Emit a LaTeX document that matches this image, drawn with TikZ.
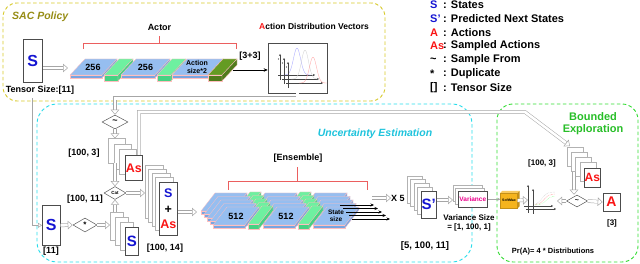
\documentclass[tikz,border=0pt]{standalone}
\usepackage{fontspec}
\setmainfont{Liberation Sans}
\usepackage{xcolor}
\usepackage{tikz}
\usetikzlibrary{arrows.meta,positioning,shapes.geometric}
\definecolor{sacyel}{RGB}{214,200,40}
\definecolor{sacolive}{RGB}{150,140,20}
\definecolor{unccyan}{RGB}{40,220,235}
\definecolor{unctext}{RGB}{30,195,220}
\definecolor{bndgreen}{RGB}{50,220,50}
\definecolor{bndtext}{RGB}{40,190,40}
\definecolor{sblue}{RGB}{20,20,210}
\definecolor{ared}{RGB}{250,20,20}
\definecolor{slabblue}{RGB}{150,190,240}
\definecolor{slabblue2}{RGB}{120,165,225}
\definecolor{slabgreen}{RGB}{110,240,160}
\definecolor{slabgreen2}{RGB}{70,210,130}
\definecolor{darkgreen}{RGB}{100,155,35}
\definecolor{smaxor}{RGB}{245,180,30}
\definecolor{brkred}{RGB}{235,95,95}
\newcommand{\fsz}[1]{\fontsize{#1}{#1}\selectfont}
% slab: x, y (front bottom left), width, thickness, top colour, side colour, depth dx, depth dy
\newcommand{\slab}[8]{%
  \filldraw[slabedge, fill=#5] (#1,{#2-#4}) -- ++(#3,0) -- ++(#7,#8) -- ++({-1*(#3)},0) -- cycle;
  \filldraw[slabedge, fill=#6] (#1,{#2-#4}) rectangle ++(#3,#4);
  \filldraw[slabedge, fill=#6] ({#1+#3},{#2-#4}) -- ++(#7,#8) -- ++(0,#4) -- ++({-1*(#7)},{-1*(#8)}) -- cycle;
}
% frames behind a stack: x, y (front top left), w, h, count, dx, dy
\newcommand{\backframes}[7]{%
  \foreach \k in {#5,...,1}
    \draw[backfr] ({#1+\k*(#6)},{#2+\k*(#7)}) rectangle ++(#3,#4);
}

\begin{document}
\begin{tikzpicture}[x=1pt, y=-1pt,
  region/.style={draw=#1, line width=0.9pt, dash pattern=on 3.5pt off 2.5pt, rounded corners=14pt},
  title/.style={font=\bfseries\itshape\fsz{10.5}, inner sep=0pt},
  lbl/.style={font=\bfseries\fsz{9}, inner sep=0pt},
  leg/.style={font=\bfseries\fsz{11}, inner sep=0pt, anchor=west},
  frame/.style={draw=gray!60!black, fill=white, line width=0.6pt, inner sep=0pt, anchor=north west},
  backfr/.style={draw=gray!60, fill=white, line width=0.5pt},
  slabedge/.style={draw=red!25, line width=0.3pt},
  gate/.style={diamond, draw=gray!70!black, fill=white, line width=0.5pt, inner sep=0pt},
  hollow/.style={draw=gray!70, line width=0.5pt, double=white, double distance=2.6pt,
                 -{Triangle[open, length=5pt, width=8.5pt]}},
  thinarr/.style={draw=gray!70, line width=0.5pt, -{Triangle[open, length=4pt, width=5pt]}},
  brk/.style={draw=brkred, line width=0.9pt},
  axis/.style={draw=gray!55!black, line width=0.4pt, -{Stealth[length=2pt, width=2pt]}},
]
\useasboundingbox (0,0) rectangle (640,264);

% Regions
\draw[region=sacyel] (3,3) rectangle (385,101);
\draw[region=unccyan, rounded corners=20pt] (37,104) rectangle (472,262);
\draw[region=bndgreen, rounded corners=16pt] (497,104) rectangle (638,262);
\node[title, text=sacolive, anchor=west] (sac) at (12,17) {SAC Policy};
\node[title, text=unctext] (unc) at (375,134) {Uncertainty Estimation};
\node[font=\bfseries\fsz{11}, text=bndtext, align=center, inner sep=0pt] (bnd) at (593,123.5)
  {Bounded\\[1.5pt]Exploration};

% Legend
\foreach \sym/\txt [count=\i from 0] in {%
  {\color{sblue}S}/States,
  {\color{sblue}S'}/Predicted Next States,
  {\color{ared}A}/Actions,
  {\color{ared}As}/Sampled Actions,
  {\textasciitilde}/Sample From,
  {*}/Duplicate,
  {[]}/Tensor Size}
{
  \node[leg] (sym\i) at (430,{5+13.7*\i}) {\sym};
  \node[leg] (leg\i) at (443,{5+13.7*\i}) {: \txt};
}

% SAC policy: actor
\node[frame, minimum width=19pt, minimum height=43pt, font=\bfseries\fsz{16}, text=sblue] (s0) at (23,39) {S};
\node[lbl] (tsize) at (40,90) {Tensor Size:[11]};
\coordinate (actin) at (68,68);
\draw[hollow] (s0.east |- actin) -- (actin);

\slab{70}{78}{32}{3}{slabblue}{slabblue2}{15}{-16}
\slab{104}{81}{14}{6}{slabgreen}{slabgreen2}{15}{-16}
\slab{121}{78}{34}{3}{slabblue}{slabblue2}{15}{-16}
\slab{157}{81}{14}{6}{slabgreen}{slabgreen2}{15}{-16}
\slab{172}{78}{36}{3}{slabblue}{slabblue2}{15}{-16}
\slab{208}{81}{14}{6}{darkgreen}{darkgreen!80!black}{15}{-16}
\node[lbl] (l1) at (93,67) {256};
\node[lbl] (l2) at (145.5,67) {256};
\node[lbl, font=\bfseries\fsz{7}, align=center] (l3) at (197,67) {Action\\[1pt]size*2};

\draw[brk] (83,49) -- (83,43) -- (236,43) -- (236,49);
\draw[brk] (159.5,43) -- (159.5,36);
\node[lbl] (actor) at (159.5,27) {Actor};

\node[draw=gray!60!black, fill=white, line width=0.6pt, minimum width=59pt, minimum height=50pt, inner sep=0pt]
  (dist1) at (297.5,68) {};
\node[lbl, font=\bfseries\fsz{8.5}] (dlab) at (314,26) {{\color{ared}A}ction Distribution Vectors};
\foreach \k/\c/\m/\p in {0/blue/297/48, 1/gray/305/50, 2/red/313/57} {
  \draw[axis] ({280+4*\k},{80+4*\k}) -- ({280+4*\k},{54+4*\k});
  \draw[axis] ({278+4*\k},{75+4*\k}) -- ({315+4*\k},{75+4*\k});
  \fill[gray!40!black] ({278.5+4*\k},{59+4*\k}) circle (0.7);
  \draw[\c!35, line width=0.35pt] plot[domain=-14:14, samples=30]
    ({\m+\x},{75+4*\k-(75+4*\k-\p)*exp(-(\x/5)^2)});
}
\coordinate (aout) at (233,70);
\draw[-{Stealth[length=4pt, width=3.5pt]}, line width=0.8pt] (aout) -- (dist1.west |- aout);
\node[lbl] (ss) at (250,56) {[3+3]};

% Uncertainty estimation: inputs
\node[frame, minimum width=18pt, minimum height=40pt, font=\bfseries\fsz{16}, text=sblue] (s1) at (42,205) {S};
\node[lbl] (t11) at (51,251) {[11]};
\coordinate (tdrop) at (32,98);
\draw[thinarr] (tdrop) |- (s1.west);

\node[gate, minimum width=24pt, minimum height=14pt, font=\bfseries\fsz{8}] (dup) at (85,225) {*};
\draw[hollow] (s1.east) -- (dup.west);

\backframes{125}{227}{13}{28}{3}{-5}{-5}
\node[frame, minimum width=13pt, minimum height=28pt, font=\bfseries\fsz{15}, text=sblue] (sstk) at (125,227) {S};
\coordinate (sback) at (110,225);
\draw[hollow] (dup.east) -- (sback);

\node[gate, minimum width=22pt, minimum height=13pt, font=\bfseries\fsz{4.5}] (cat) at (115,193) {Cat};
\coordinate (stop) at (115,212);
\draw[hollow] (stop) -- (cat.south);

\node[gate, minimum width=26pt, minimum height=14pt, font=\bfseries\fsz{9}] (samp1) at (115,122) {\textasciitilde};
\draw[hollow] (dist1.south) -- ++(0,5) -| (samp1.north);

\backframes{125}{155}{17}{25}{3}{-5.5}{-5.5}
\node[frame, minimum width=17pt, minimum height=25pt, font=\bfseries\fsz{12.5}, text=ared] (asstk) at (125,155) {As};
\coordinate (astop) at (115,138.5);
\coordinate (asbot) at (115,163.5);
\draw[hollow] (samp1.south) -- (astop);
\draw[hollow] (asbot) -- (cat.north);

\backframes{159}{182}{18}{53}{4}{-3.5}{-4.25}
\node[frame, minimum width=18pt, minimum height=53pt, font=\bfseries\fsz{12.5}, align=center] (sas) at (159,182)
  {{\color{sblue}S}\\[3pt]+\\[3pt]{\color{ared}As}};
\coordinate (sasback) at (145,195);
\draw[hollow] (cat.east) -- (cat.east -| sasback);

\node[lbl] (n3) at (84,153) {[100, 3]};
\node[lbl] (n11) at (85,199) {[100, 11]};
\node[lbl] (n14) at (165,248) {[100, 14]};

% Ensemble
\coordinate (ensin) at (197,212);
\draw[hollow] (sas.east |- ensin) -- (ensin);
\foreach \k in {4,...,0} {
  \begin{scope}[shift={(-3*\k,-3.5*\k)}]
    \slab{213}{228}{32}{3}{slabblue}{slabblue2}{14}{-18}
    \slab{248}{229}{11}{5}{slabgreen}{slabgreen2}{14}{-18}
    \slab{263}{228}{32}{3}{slabblue}{slabblue2}{14}{-18}
    \slab{298}{229}{11}{5}{slabgreen}{slabgreen2}{14}{-18}
    \slab{313}{228}{32}{3}{slabblue}{slabblue2}{14}{-18}
  \end{scope}
}
\node[lbl] (e1) at (236,216) {512};
\node[lbl] (e2) at (286,216) {512};
\node[lbl, font=\bfseries\fsz{6.5}, align=center] (e3) at (336,216) {State\\[1pt]size};
\draw[brk] (228,190) -- (228,181) -- (367,181) -- (367,190);
\draw[brk] (297.5,181) -- (297.5,167);
\node[lbl] (ens) at (298,158) {[Ensemble]};
\foreach \k in {0,...,4} {
  \coordinate (eo\k) at ({352-3*\k},{219-3.5*\k});
  \draw[-{Stealth[length=3.5pt, width=3pt]}, line width=0.6pt] (eo\k) -- ++({38-\k},0);
}
\node[lbl, anchor=west] (x5) at (391,198) {X 5};
\coordinate (x5s) at (372,198);
\draw[hollow] (x5s) -- (x5.west);

% Predicted next states and variance
\backframes{421}{191}{15}{27}{4}{-3.5}{-3.75}
\node[frame, minimum width=15pt, minimum height=27pt, font=\bfseries\fsz{15}, text=sblue] (spn) at (421,191) {S'};
\node[lbl, font=\bfseries\fsz{9.5}] (n5) at (425,246) {[5, 100, 11]};
\backframes{458}{191}{29}{16}{2}{-2.5}{-3}
\node[frame, minimum width=29pt, minimum height=16pt, font=\bfseries\fsz{6.5}, text=magenta] (var) at (458,191) {Variance};
\coordinate (varin) at (453,200);
\draw[hollow] (spn.east |- varin) -- (varin);
\node[lbl, font=\bfseries\fsz{8}, align=center] (vsz) at (469,222.5) {Variance Size\\[1pt]= [1, 100, 1]};

% Bounded exploration
\node[fill=smaxor, draw=smaxor!80!black, line width=0.3pt, minimum width=17pt, minimum height=15pt,
      inner sep=0pt, font=\bfseries\fsz{3.5}] (smax) at (509,200.5) {SoftMax};
\fill[smaxor!70!white] (smax.north west) -- ++(2,-2) -- ([shift={(2,-2)}]smax.north east) -- (smax.north east) -- cycle;
\fill[smaxor!80!black] (smax.north east) -- ++(2,-2) -- ([shift={(2,-2)}]smax.south east) -- (smax.south east) -- cycle;
\draw[draw=gray!70, line width=0.5pt, -{Stealth[length=3pt, width=3pt]}] (var.east) -- (smax.west |- var.east);
\coordinate (p2in) at (528,200);
\draw[hollow] (smax.east) -- (p2in);

\draw[axis] (528,213) -- (528,185);
\draw[axis] (533,214) -- (533,189);
\draw[axis] (524,206) -- (553,206);
\draw[axis] (526,209) -- (556,209);
\foreach \c/\s in {gray/0, red/2, green/4}
  \draw[\c!60, densely dotted, line width=0.4pt] plot[domain=0:20, samples=20]
    ({535+\x},{205-(13-\s)/(1+exp(-(\x-7-\s)/2.5))});

\node[gate, minimum width=21pt, minimum height=12pt, font=\bfseries\fsz{7}] (samp2) at (577,201) {\textasciitilde};
\coordinate (p2out) at (557,201);
\draw[hollow] (samp2.west) -- (p2out);

\backframes{584}{168}{16}{19}{4}{-4.25}{-5.25}
\node[frame, minimum width=16pt, minimum height=19pt, font=\bfseries\fsz{12}, text=ared] (as2) at (584,168) {As};
\node[lbl, font=\bfseries\fsz{8}] (n3b) at (542,163) {[100, 3]};
\coordinate (as2bot) at (574,172);
\draw[hollow] (as2bot) -- (as2bot |- samp2.north);

\node[frame, anchor=center, minimum width=17pt, minimum height=18pt, font=\bfseries\fsz{14}, text=ared] (act) at (611.5,202) {A};
\node[lbl, font=\bfseries\fsz{8}] (n3c) at (612,223) {[3]};
\draw[hollow] (samp2.east) -- (act.west);
\node[lbl, font=\bfseries\fsz{7.5}] (pra) at (553,252) {Pr(A)= 4 * Distributions};

% Sampled actions carried to bounded exploration
\coordinate (bend1) at (525,112);
\coordinate (as2top) at (570,146);
\draw[hollow] ([xshift=5pt]asstk.north) |- (bend1) -- (as2top);
\end{tikzpicture}
\end{document}
